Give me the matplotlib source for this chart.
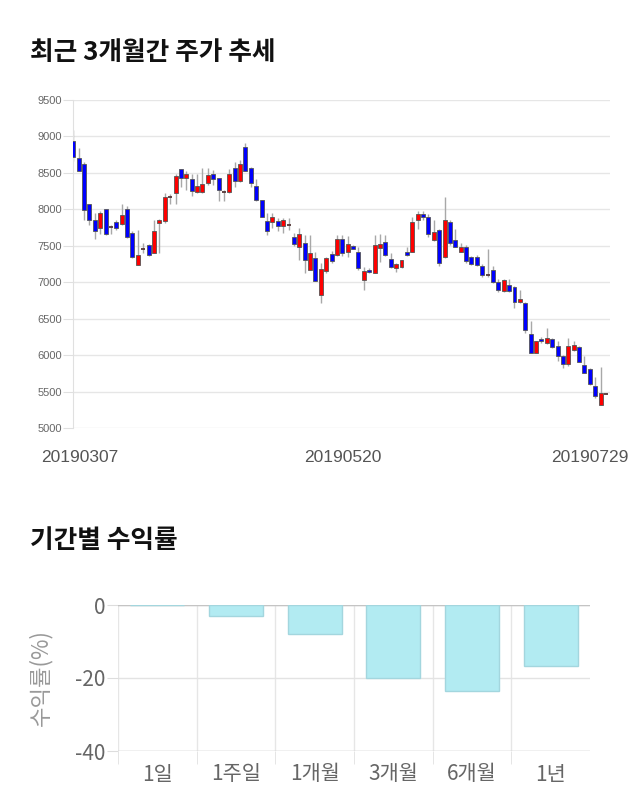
import numpy as np
import matplotlib
matplotlib.use('Agg')
import matplotlib.pyplot as plt
from matplotlib import transforms

plt.rcParams['font.family'] = ['Noto Sans CJK KR', 'DejaVu Sans']

# 일봉 데이터 (20190307 ~ 20190729, 100 거래일)
opens = [8940, 8700, 8620, 8070, 7860, 7740, 8000, 7760, 7830, 7800,
         8000, 7680, 7240, 7460, 7510, 7400, 7810, 7840, 8170, 8220,
         8550, 8430, 8410, 8240, 8240, 8360, 8480, 8430, 8240, 8240,
         8570, 8390, 8850, 8570, 8320, 8130, 7840, 7820, 7840, 7770,
         7790, 7620, 7490, 7540, 7170, 7330, 6820, 7150, 7390, 7370,
         7590, 7410, 7500, 7420, 7030, 7170, 7130, 7470, 7550, 7320,
         7200, 7210, 7420, 7420, 7850, 7940, 7890, 7580, 7710, 7350,
         7820, 7580, 7420, 7480, 7340, 7350, 7220, 7100, 7170, 7000,
         6880, 6960, 6940, 6730, 6720, 6290, 6030, 6220, 6160, 6220,
         6130, 5990, 5880, 6070, 6110, 5860, 5810, 5580, 5320, 5470]
highs = [9090, 8840, 8650, 8080, 7950, 7980, 8010, 7790, 7850, 8070,
         8040, 7700, 7720, 7540, 7530, 7860, 7870, 8230, 8210, 8490,
         8560, 8520, 8490, 8490, 8570, 8570, 8540, 8430, 8270, 8560,
         8650, 8680, 8910, 8580, 8410, 8130, 7950, 7950, 7880, 7880,
         7880, 7680, 7740, 7650, 7650, 7420, 7270, 7350, 7430, 7650,
         7650, 7630, 7510, 7480, 7210, 7200, 7650, 7660, 7650, 7400,
         7270, 7300, 7490, 7900, 7980, 7980, 7940, 7850, 7730, 8170,
         7850, 7730, 7540, 7510, 7360, 7370, 7250, 7450, 7220, 7040,
         7050, 7050, 6950, 6890, 6730, 6470, 6200, 6250, 6370, 6230,
         6190, 6000, 6230, 6190, 6120, 5990, 5820, 5700, 5840, 5480]
lows = [8660, 8520, 7850, 7790, 7590, 7660, 7650, 7660, 7710, 7790,
        7600, 7330, 7230, 7400, 7360, 7400, 7400, 7810, 8080, 8070,
        8310, 8260, 8180, 8230, 8230, 8340, 8330, 8110, 8110, 8220,
        8310, 8380, 8530, 8310, 8110, 7890, 7650, 7750, 7700, 7680,
        7720, 7500, 7300, 7130, 7170, 7010, 6720, 7130, 7260, 7360,
        7360, 7340, 7450, 7170, 6900, 7130, 7130, 7280, 7360, 7200,
        7140, 7200, 7360, 7410, 7730, 7860, 7620, 7560, 7220, 7330,
        7510, 7480, 7420, 7260, 7230, 7220, 7070, 7070, 6990, 6870,
        6870, 6870, 6640, 6720, 6300, 6030, 6030, 6170, 6150, 6100,
        5920, 5830, 5850, 6060, 5910, 5750, 5590, 5410, 5320, 5460]
closes = [8720, 8530, 7990, 7860, 7700, 7950, 7660, 7760, 7740, 7920,
          7620, 7350, 7380, 7460, 7370, 7700, 7850, 8170, 8170, 8460,
          8430, 8490, 8250, 8320, 8350, 8470, 8410, 8270, 8240, 8480,
          8390, 8620, 8530, 8360, 8130, 7890, 7700, 7890, 7770, 7850,
          7790, 7520, 7660, 7300, 7400, 7010, 7180, 7330, 7290, 7590,
          7400, 7530, 7460, 7200, 7150, 7140, 7510, 7530, 7370, 7210,
          7250, 7300, 7370, 7820, 7940, 7890, 7660, 7690, 7260, 7860,
          7540, 7490, 7480, 7290, 7250, 7240, 7100, 7100, 7000, 6890,
          7030, 6880, 6730, 6770, 6340, 6030, 6190, 6190, 6240, 6110,
          5990, 5880, 6130, 6140, 5910, 5750, 5610, 5440, 5480, 5470]
date_ticks = [0, 50, 99]
date_labels = ['20190307', '20190520', '20190729']
price_ticks = [5000, 5500, 6000, 6500, 7000, 7500, 8000, 8500, 9000, 9500]

# 기간별 수익률
periods = ['1일', '1주일', '1개월', '3개월', '6개월', '1년']
returns = [0.0, -2.9, -7.9, -20.0, -23.6, -16.8]

fig = plt.figure(figsize=(6.4, 8.1), dpi=100)

# 최근 3개월간 주가 추세
fig.text(30 / 640, 1 - 52 / 810, '최근 3개월간 주가 추세', fontsize=18.5,
         fontweight='bold', va='center', color='#111111')
ax1 = fig.add_axes([73.3 / 640, 382 / 810, 536.7 / 640, 328 / 810])
x = np.arange(len(opens))
o = np.array(opens)
c = np.array(closes)
ax1.vlines(x, lows, highs, color='#a8a8a8', lw=1, zorder=2)
up = c > o
down = c < o
flat = c == o
ax1.bar(x[up], (c - o)[up], bottom=o[up], width=0.74, color='#ff0000',
        edgecolor='#555555', lw=0.6, zorder=3)
ax1.bar(x[down], (o - c)[down], bottom=c[down], width=0.74, color='#0000ff',
        edgecolor='#555555', lw=0.6, zorder=3)
ax1.hlines(o[flat], x[flat] - 0.37, x[flat] + 0.37, color='#553838', lw=1.3, zorder=3)
ax1.set_xlim(0, 99.75)
ax1.set_ylim(5000, 9500)
ax1.set_yticks(price_ticks)
ax1.set_yticklabels([str(p) for p in price_ticks], fontsize=8, color='#666666',
                    family='Liberation Sans')
ax1.tick_params(axis='y', length=7, color='#e0e0e0', pad=1)
ax1.set_xticks(date_ticks)
ax1.set_xticklabels(date_labels, fontsize=12.5, color='#555555', family='Liberation Sans')
ax1.tick_params(axis='x', length=0, pad=16)
xl = ax1.get_xticklabels()
xl[0].set_transform(xl[0].get_transform() + transforms.ScaledTranslation(0.06, 0, fig.dpi_scale_trans))
xl[-1].set_horizontalalignment('right')
xl[-1].set_transform(xl[-1].get_transform() + transforms.ScaledTranslation(0.23, 0, fig.dpi_scale_trans))
ax1.grid(axis='y', color='#e6e6e6', lw=1)
ax1.set_axisbelow(True)
for s in ['top', 'right', 'bottom']:
    ax1.spines[s].set_visible(False)
ax1.spines['left'].set_color('#e0e0e0')

# 기간별 수익률
fig.text(30 / 640, 1 - 541 / 810, '기간별 수익률', fontsize=18.5,
         fontweight='bold', va='center', color='#111111')
ax2 = fig.add_axes([118 / 640, 59 / 810, 472 / 640, 146 / 810])
pos = np.arange(len(periods))
ax2.bar(pos, returns, width=0.69, color='#b2ebf2', edgecolor='#a3d6de', lw=1, zorder=3)
ax2.set_xlim(-0.5, 5.5)
ax2.set_ylim(-40, 0)
ax2.set_yticks([0, -20, -40])
ax2.set_yticklabels(['0', '-20', '-40'], fontsize=15, color='#666666')
ax2.tick_params(axis='y', length=8, color='#dddddd', pad=1)
ax2.set_xticks(pos)
ax2.set_xticklabels(periods, fontsize=15, color='#666666')
ax2.set_xticks(pos - 0.5, minor=True)
ax2.tick_params(axis='x', which='major', length=0, pad=9)
ax2.tick_params(axis='x', which='minor', length=9, color='#e0e0e0')
ax2.grid(axis='y', color='#e3e3e3', lw=1)
ax2.grid(axis='x', which='minor', color='#e6e6e6', lw=1)
ax2.axhline(0, color='#c4c4c4', lw=1, zorder=2)
ax2.axhline(-40, color='#cccccc', lw=1, zorder=2)
ax2.set_axisbelow(True)
ax2.set_ylabel('수익률(%)', fontsize=16, color='#999999')
ax2.yaxis.set_label_coords(-0.14, 0.5)
for s in ['top', 'right', 'bottom', 'left']:
    ax2.spines[s].set_visible(False)

fig.savefig('out.png', dpi=100)
